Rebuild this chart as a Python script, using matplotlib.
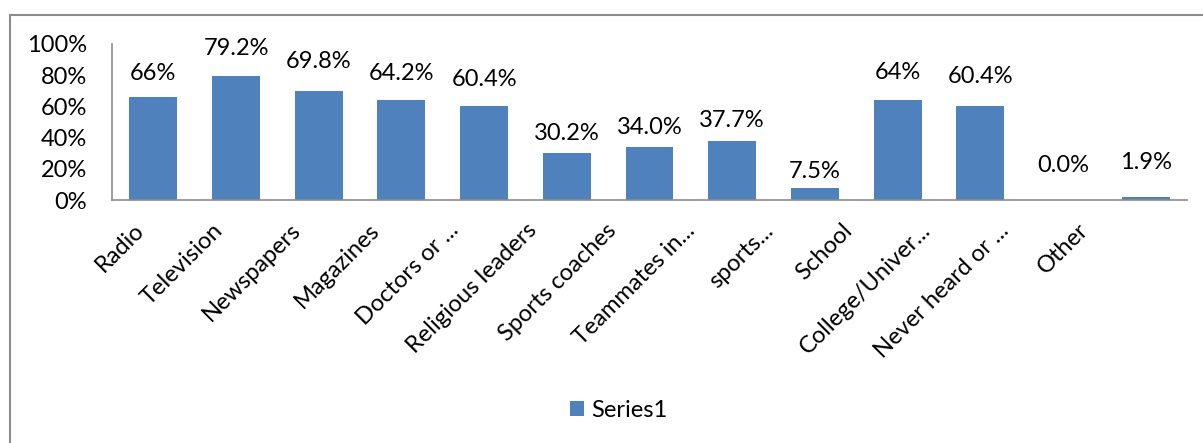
import matplotlib.pyplot as plt
import matplotlib.patches as patches
import matplotlib.transforms as mtransforms
from matplotlib.ticker import FuncFormatter

categories = ["Radio", "Television", "Newspapers", "Magazines", "Doctors or ...",
              "Religious leaders", "Sports coaches", "Teammates in...", "sports...",
              "School", "College/Univer...", "Never heard or ...", "Other"]
values = [66, 79.2, 69.8, 64.2, 60.4, 30.2, 34.0, 37.7, 7.5, 64, 60.4, 0.0, 1.9]
value_labels = ["66%", "79.2%", "69.8%", "64.2%", "60.4%", "30.2%", "34.0%",
                "37.7%", "7.5%", "64%", "60.4%", "0.0%", "1.9%"]
# distance of each data label above its bar, in points
label_gap = [17, 20, 21, 19, 19, 14, 14, 15, 12, 20, 21, 25, 25]

bar_color = "#4F81BD"
axis_color = "#8C8C8C"
fs = 17

plt.rcParams['font.family'] = ['Lato', 'DejaVu Sans']

fig = plt.figure(figsize=(12.03, 4.43), dpi=100)
ax = fig.add_axes([0.0931, 0.5485, 0.8936, 0.3522])

x = range(len(categories))
ax.bar(x, values, width=0.58, color=bar_color, label="Series1")

for xi, v, txt, gap in zip(x, values, value_labels, label_gap):
    ax.annotate(txt, (xi, v), xytext=(0, gap), textcoords="offset points",
                ha="center", va="center", fontsize=fs)

ax.set_xlim(-0.5, len(categories) - 0.5)
ax.set_ylim(0, 100)
ax.set_yticks(range(0, 101, 20))
ax.yaxis.set_major_formatter(FuncFormatter(lambda v, p: f"{int(v)}%"))
ax.tick_params(axis="y", length=0, pad=18, labelsize=fs)
ax.tick_params(axis="x", length=0, pad=0)
ax.set_xticks(list(x))
ax.set_xticklabels(categories, rotation=45, ha="right", va="center",
                   rotation_mode="anchor", fontsize=fs)

# rotated labels sit a bit tighter than the bars, shifted left and down
for i, lbl in enumerate(ax.get_xticklabels()):
    dx = (-13 - 4.0 * i) / 100
    offset = mtransforms.ScaledTranslation(dx, -0.27, fig.dpi_scale_trans)
    lbl.set_transform(lbl.get_transform() + offset)

for side in ["top", "right"]:
    ax.spines[side].set_visible(False)
for side in ["left", "bottom"]:
    ax.spines[side].set_color(axis_color)
    ax.spines[side].set_linewidth(1.2)

ax.legend(loc="center", bbox_to_anchor=(0.514, 0.074), bbox_transform=fig.transFigure,
          frameon=False, fontsize=fs, handlelength=0.6, handleheight=0.6,
          handletextpad=0.3)

# chart area border
fig.patches.append(patches.Rectangle((10 / 1203, -0.5), 1.5, 1.5 - 15 / 443,
                                     transform=fig.transFigure, fill=False,
                                     edgecolor=axis_color, linewidth=1.5))

fig.savefig("out.png", dpi=100)
